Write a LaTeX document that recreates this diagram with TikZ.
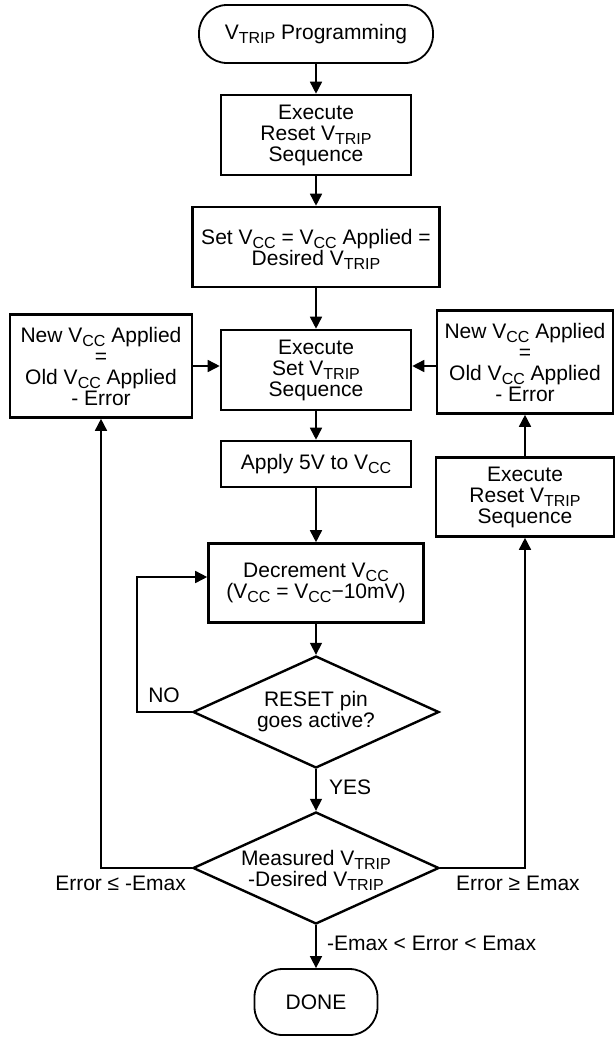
\documentclass[tikz,border=0pt]{standalone}
\usepackage{fontspec}
\setmainfont{Liberation Sans}
\usetikzlibrary{shapes.geometric,arrows.meta}

\newcommand{\lowsub}[1]{\raisebox{-4pt}[0pt][0pt]{\fontsize{16}{16}\selectfont #1}}

\tikzset{
	box/.style={draw, rectangle, line width=2.6pt, align=center, inner sep=0pt},
	terminal/.style={draw, rectangle, rounded corners=28pt, line width=1.8pt, align=center, inner sep=0pt},
	decision/.style={draw, diamond, aspect=2.2, line width=2.4pt, align=center, inner sep=0pt, minimum width=246pt, minimum height=112pt},
	flow/.style={line width=1.6pt, -{Triangle[length=12pt,width=12pt]}},
	tag/.style={inner sep=0pt}
}

\begin{document}
\begin{tikzpicture}[x=1pt, y=-1pt, font=\fontsize{21}{21}\selectfont]
			
			\useasboundingbox (0,0) rectangle (615,1037);
			
			%Start block
			\node (start) at (316,34) [terminal, minimum width=234pt, minimum height=58pt]{V\lowsub{TRIP} Programming};
			
			%Reset sequence
			\node (resetSeq) at (316,135) [box, minimum width=190pt, minimum height=80pt]{Execute\\ Reset V\lowsub{TRIP}\\ Sequence};
			
			%Set Vcc
			\node (setVcc) at (316,247) [box, minimum width=247pt, minimum height=80pt]{Set V\lowsub{CC} = V\lowsub{CC} Applied =\\ Desired V\lowsub{TRIP}};
			
			%Set sequence
			\node (setSeq) at (316,370) [box, minimum width=190pt, minimum height=80pt]{Execute\\ Set V\lowsub{TRIP}\\ Sequence};
			
			%New Vcc, left
			\node (newVccLeft) at (101,366) [box, minimum width=182pt, minimum height=103pt]{New V\lowsub{CC} Applied\\ =\\ Old V\lowsub{CC} Applied\\ - Error};
			
			%New Vcc, right
			\node (newVccRight) at (525,362) [box, minimum width=176pt, minimum height=103pt]{New V\lowsub{CC} Applied\\ =\\ Old V\lowsub{CC} Applied\\ - Error};
			
			%Apply 5V
			\node (apply) at (316,464) [box, minimum width=190pt, minimum height=46pt]{Apply 5V to V\lowsub{CC}};
			
			%Reset sequence, right
			\node (resetSeqRight) at (525,497) [box, minimum width=178pt, minimum height=79pt]{Execute\\ Reset V\lowsub{TRIP}\\ Sequence};
			
			%Decrement
			\node (decrement) at (316,583) [box, minimum width=215pt, minimum height=79pt]{Decrement V\lowsub{CC}\\ (V\lowsub{CC} = V\lowsub{CC}−10mV)};
			
			%Reset pin test
			\node (resetPin) at (316,712) [decision]{RESET pin\\ goes active?};
			
			%Error test
			\node (errorTest) at (316,868) [decision]{Measured V\lowsub{TRIP}\\ -Desired V\lowsub{TRIP}};
			
			%Done block
			\node (done) at (316,1002) [terminal, minimum width=123pt, minimum height=66pt]{DONE};
			
			%Links among blocks
			\draw[flow] (start.south) -- (resetSeq.north);
			\draw[flow] (resetSeq.south) -- (setVcc.north);
			\draw[flow] (setVcc.south) -- (setSeq.north);
			\draw[flow] (setSeq.south) -- (apply.north);
			\draw[flow] (apply.south) -- (decrement.north);
			\draw[flow] (decrement.south) -- (resetPin.north);
			\draw[flow] (resetPin.south) -- (errorTest.north);
			\draw[flow] (errorTest.south) -- (done.north);
			\draw[flow] (newVccLeft.east) -- (setSeq.west |- newVccLeft.east);
			\draw[flow] (newVccRight.west |- newVccLeft.east) -- (setSeq.east |- newVccLeft.east);
			\draw[flow] (resetSeqRight.north) -- (newVccRight.south);
			
			%NO loop
			\coordinate (noCorner) at (137,577);
			\draw[flow] (resetPin.west) -| (noCorner) -- (noCorner -| decrement.west);
			
			%Error loops
			\draw[flow] (errorTest.west) -| (newVccLeft.south);
			\draw[flow] (errorTest.east) -| (resetSeqRight.south);
			
			%Labels
			\node (noLabel) at (164,695) [tag]{NO};
			\node (yesLabel) at (329,787) [tag, anchor=west]{YES};
			\node (lowLabel) at (186,883) [tag, anchor=east]{Error ≤ -Emax};
			\node (highLabel) at (456,883) [tag, anchor=west]{Error ≥ Emax};
			\node (okLabel) at (327,943) [tag, anchor=west]{-Emax < Error < Emax};
			
\end{tikzpicture}
\end{document}
